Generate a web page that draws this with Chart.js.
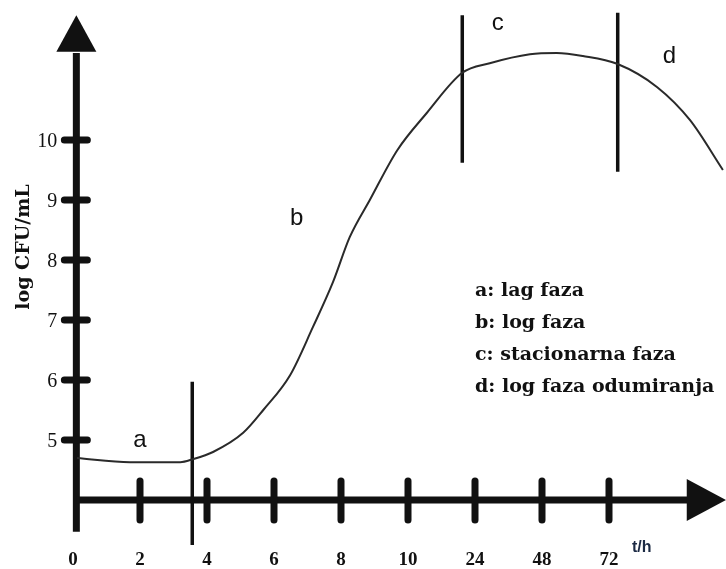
<!DOCTYPE html>
<html>
<head>
<meta charset="utf-8">
<script src="https://cdn.jsdelivr.net/npm/chart.js@4.4.1/dist/chart.umd.min.js"></script>
<style>
  html, body { margin: 0; padding: 0; background: #fff; }
  #wrap { width: 726px; height: 569px; position: relative; }
</style>
</head>
<body>
<div id="wrap"><canvas id="growthChart"></canvas></div>
<script>
// x is the tick index (0..8 -> 0,2,4,6,8,10,24,48,72 h), y is log CFU/mL
const timeLabels = ['0', '2', '4', '6', '8', '10', '24', '48', '72'];
const yTicks = [5, 6, 7, 8, 9, 10];

const curveX = [0.06, 0.85, 1.60, 1.79, 2.09, 2.54, 2.84, 3.24, 3.58, 3.88, 4.13, 4.43, 4.84, 5.28, 5.81, 6.22, 6.82, 7.22, 7.61, 8.12, 8.72, 9.21, 9.70];
const curveY = [4.70, 4.63, 4.63, 4.68, 4.80, 5.12, 5.50, 6.08, 6.88, 7.63, 8.38, 9.00, 9.83, 10.45, 11.12, 11.28, 11.43, 11.45, 11.40, 11.27, 10.88, 10.33, 9.50];

// phase boundaries
const boundaryX = [1.78, 5.81, 8.13];
const boundaryLow = [3.25, 9.62, 9.47];
const boundaryHigh = [5.97, 12.08, 12.12];

const phaseNames = ['a', 'b', 'c', 'd'];
const phaseNameX = [1.0, 3.34, 6.34, 8.9];
const phaseNameY = [5.0, 8.7, 11.95, 11.4];

const legendLines = ['a: lag faza', 'b: log faza', 'c: stacionarna faza', 'd: log faza odumiranja'];

const SERIF = '"Liberation Serif", "DejaVu Serif", serif';
const WIDE_SERIF = '"DejaVu Serif", serif';
const SANS = '"Liberation Sans", Arial, sans-serif';

const datasets = [{
  data: curveX.map((x, i) => ({ x: x, y: curveY[i] })),
  borderColor: '#2a2a2a',
  borderWidth: 2,
  pointRadius: 0,
  cubicInterpolationMode: 'monotone',
  fill: false
}];
boundaryX.forEach((x, i) => {
  datasets.push({
    data: [{ x: x, y: boundaryLow[i] }, { x: x, y: boundaryHigh[i] }],
    borderColor: '#111',
    borderWidth: 3.5,
    pointRadius: 0,
    fill: false
  });
});

const axesPlugin = {
  id: 'axesPlugin',
  beforeDatasetsDraw(chart) {
    const { ctx, scales: { x, y } } = chart;
    const ax = x.getPixelForValue(0.05);
    const ay = y.getPixelForValue(4);
    ctx.save();
    ctx.strokeStyle = '#111';
    ctx.fillStyle = '#111';
    ctx.lineCap = 'butt';

    // y axis line and arrow
    ctx.lineWidth = 7;
    ctx.beginPath();
    ctx.moveTo(ax, y.getPixelForValue(3.47));
    ctx.lineTo(ax, y.getPixelForValue(11.45));
    ctx.stroke();
    ctx.beginPath();
    ctx.moveTo(ax, y.getPixelForValue(12.08));
    ctx.lineTo(ax - 20, y.getPixelForValue(11.47));
    ctx.lineTo(ax + 20, y.getPixelForValue(11.47));
    ctx.closePath();
    ctx.fill();

    // x axis line and arrow
    ctx.beginPath();
    ctx.moveTo(ax, ay);
    ctx.lineTo(x.getPixelForValue(9.2), ay);
    ctx.stroke();
    ctx.beginPath();
    ctx.moveTo(x.getPixelForValue(9.746), ay);
    ctx.lineTo(x.getPixelForValue(9.16), ay - 21);
    ctx.lineTo(x.getPixelForValue(9.16), ay + 21);
    ctx.closePath();
    ctx.fill();

    // tick marks
    ctx.lineCap = 'round';
    ctx.lineWidth = 7;
    timeLabels.forEach((t, i) => {
      if (i === 0) return;
      const px = x.getPixelForValue(i);
      ctx.beginPath();
      ctx.moveTo(px, ay - 19);
      ctx.lineTo(px, ay + 20);
      ctx.stroke();
    });
    yTicks.forEach(v => {
      const py = y.getPixelForValue(v);
      ctx.beginPath();
      ctx.moveTo(ax - 12, py);
      ctx.lineTo(ax + 11, py);
      ctx.stroke();
    });

    // tick labels
    ctx.font = 'bold 19px ' + SERIF;
    ctx.textBaseline = 'alphabetic';
    ctx.textAlign = 'center';
    timeLabels.forEach((t, i) => {
      ctx.fillText(t, x.getPixelForValue(i), 565);
    });
    ctx.textAlign = 'right';
    ctx.font = '20px ' + SERIF;
    yTicks.forEach(v => {
      ctx.fillText(String(v), ax - 19, y.getPixelForValue(v) + 7);
    });

    // axis titles
    ctx.save();
    ctx.translate(29, 247);
    ctx.rotate(-Math.PI / 2);
    ctx.textAlign = 'center';
    ctx.font = 'bold 19px ' + WIDE_SERIF;
    ctx.fillText('log CFU/mL', 0, 0);
    ctx.restore();

    ctx.textAlign = 'left';
    ctx.fillStyle = '#1c2a44';
    ctx.font = 'bold 16px ' + SANS;
    ctx.fillText('t/h', 632, 552);
    ctx.restore();
  },
  afterDatasetsDraw(chart) {
    const { ctx, scales: { x, y } } = chart;
    ctx.save();
    ctx.fillStyle = '#111';
    ctx.font = '24px ' + SANS;
    ctx.textAlign = 'center';
    ctx.textBaseline = 'middle';
    phaseNames.forEach((n, i) => {
      ctx.fillText(n, x.getPixelForValue(phaseNameX[i]), y.getPixelForValue(phaseNameY[i]));
    });

    ctx.textAlign = 'left';
    ctx.textBaseline = 'alphabetic';
    ctx.font = 'bold 19px ' + WIDE_SERIF;
    legendLines.forEach((line, i) => {
      ctx.fillText(line, 475, 296 + i * 32);
    });
    ctx.restore();
  }
};

new Chart(document.getElementById('growthChart'), {
  type: 'line',
  data: { datasets: datasets },
  options: {
    responsive: true,
    maintainAspectRatio: false,
    animation: false,
    layout: { padding: 0 },
    plugins: { legend: { display: false }, tooltip: { enabled: false } },
    scales: {
      x: { type: 'linear', display: false, min: -73 / 67, max: 653 / 67 },
      y: { type: 'linear', display: false, min: 4 - 69 / 60, max: 4 + 500 / 60 }
    }
  },
  plugins: [axesPlugin]
});
</script>
</body>
</html>
